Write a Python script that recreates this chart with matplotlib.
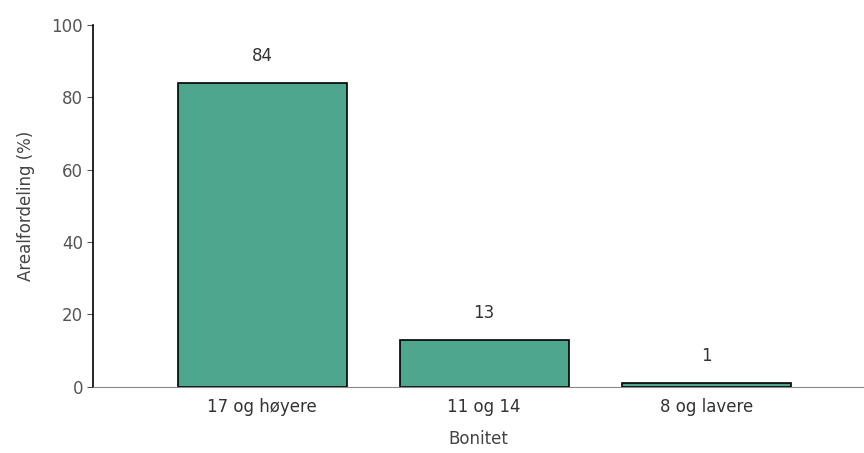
import numpy as np
import matplotlib
matplotlib.use('Agg')
import matplotlib.pyplot as plt

plt.rcParams['font.family'] = ['DejaVu Sans']

categories = ['17 og høyere', '11 og 14', '8 og lavere']
values     = [84, 13, 1]

fig        = plt.figure(figsize=(8.64, 4.53), dpi=100)
ax         = fig.add_axes([0.108, 0.146, 0.892, 0.799])

xpos       = np.arange(len(categories))
ax.bar(xpos, values, width=0.76, color='#4ea68e', edgecolor='black', linewidth=1.2)

for x, v in zip(xpos, values):
    ax.text(x, v + 5.0, '{}'.format(v), ha='center', va='bottom', fontsize=12, color='#333333')

ax.set_xlim(-0.76, 2.71)
ax.set_ylim(0, 100)
ax.set_yticks([0, 20, 40, 60, 80, 100])
ax.set_xticks(xpos)
ax.set_xticklabels(categories)

ax.spines['top'].set_visible(False)
ax.spines['right'].set_visible(False)
ax.spines['bottom'].set_color('#888888')
ax.spines['left'].set_linewidth(1.2)

ax.tick_params(axis='x', length=0, pad=8, labelsize=12, colors='#333333')
ax.tick_params(axis='y', length=4, labelsize=12, colors='#555555')

ax.set_xlabel('Bonitet', fontsize=12, color='#444444', labelpad=10)
ax.set_ylabel('Arealfordeling (%)', fontsize=12, color='#444444', labelpad=12)

fig.savefig('out.png', dpi=100)
